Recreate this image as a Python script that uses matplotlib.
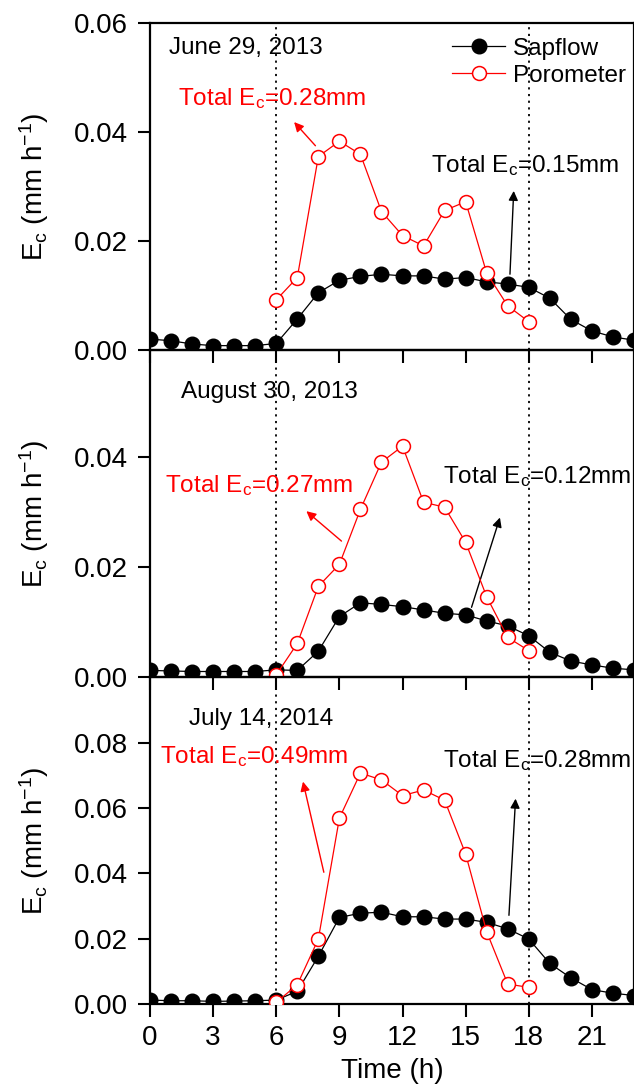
import matplotlib
matplotlib.use("Agg")
import matplotlib.pyplot as plt

plt.rcParams['font.family'] = ['Liberation Sans', 'DejaVu Sans']
plt.rcParams['mathtext.fontset'] = 'custom'
plt.rcParams['mathtext.rm'] = 'Liberation Sans'
plt.rcParams['mathtext.it'] = 'Liberation Sans:italic'
plt.rcParams['mathtext.default'] = 'regular'

hours = list(range(24))
poro_hours = list(range(6, 19))

sap_jun = [0.0020, 0.0017, 0.0011, 0.0008, 0.0008, 0.0008, 0.0012, 0.0057, 0.0105, 0.0128,
           0.0135, 0.0139, 0.0136, 0.0136, 0.0130, 0.0133, 0.0125, 0.0121, 0.0115, 0.0095,
           0.0056, 0.0035, 0.0024, 0.0018]
poro_jun = [0.0092, 0.0133, 0.0355, 0.0383, 0.0359, 0.0254, 0.0210, 0.0191, 0.0256, 0.0272,
            0.0141, 0.0081, 0.0052]

sap_aug = [0.0012, 0.0011, 0.0010, 0.0010, 0.0010, 0.0010, 0.0013, 0.0012, 0.0047, 0.0110,
           0.0135, 0.0132, 0.0128, 0.0122, 0.0116, 0.0113, 0.0102, 0.0093, 0.0075, 0.0045,
           0.0029, 0.0022, 0.0016, 0.0013]
poro_aug = [0.0004, 0.0061, 0.0165, 0.0205, 0.0305, 0.0391, 0.0420, 0.0318, 0.0309, 0.0245,
            0.0146, 0.0072, 0.0048]

sap_jul = [0.0012, 0.0010, 0.0010, 0.0008, 0.0009, 0.0010, 0.0012, 0.0039, 0.0146, 0.0265,
           0.0278, 0.0281, 0.0267, 0.0267, 0.0260, 0.0260, 0.0250, 0.0230, 0.0199, 0.0124,
           0.0080, 0.0044, 0.0033, 0.0026]
poro_jul = [0.0005, 0.0059, 0.0199, 0.0569, 0.0707, 0.0686, 0.0638, 0.0655, 0.0624, 0.0459,
            0.0221, 0.0061, 0.0051]

dates = ["June 29, 2013", "August 30, 2013", "July 14, 2014"]
poro_totals = ["0.28", "0.27", "0.49"]
sap_totals = ["0.15", "0.12", "0.28"]
xticks = [0, 3, 6, 9, 12, 15, 18, 21]

panels = [
    dict(sap=sap_jun, poro=poro_jun, ylim=0.06, yticks=[0, 0.02, 0.04, 0.06],
         date_xy=(0.9, 0.0554), red_xy=(1.33, 0.0462), red_arrow=((7.95, 0.0371), (6.76, 0.0422)),
         blk_xy=(13.33, 0.0339), blk_arrow=((17.1, 0.0134), (17.29, 0.0297))),
    dict(sap=sap_aug, poro=poro_aug, ylim=0.0595, yticks=[0, 0.02, 0.04],
         date_xy=(1.48, 0.0518), red_xy=(0.71, 0.0349), red_arrow=((9.2, 0.0244), (7.33, 0.0305)),
         blk_xy=(13.9, 0.0365), blk_arrow=((15.24, 0.0122), (16.67, 0.0295))),
    dict(sap=sap_jul, poro=poro_jul, ylim=0.1001, yticks=[0, 0.02, 0.04, 0.06, 0.08],
         date_xy=(1.86, 0.0873), red_xy=(0.48, 0.0759), red_arrow=((8.29, 0.0395), (7.24, 0.0689)),
         blk_xy=(13.9, 0.0744), blk_arrow=((17.05, 0.0263), (17.38, 0.0637))),
]

fig = plt.figure(figsize=(6.34, 10.85), dpi=100, facecolor='white')
left = 150 / 634
width = 1 - left
h = 327 / 1085
bottoms = [(1085 - 350) / 1085, (1085 - 677) / 1085, (1085 - 1004) / 1085]

for i, p in enumerate(panels):
    ax = fig.add_axes([left, bottoms[i], width, h])
    ax.set_facecolor('none')
    ax.axvline(6, color='black', linestyle=(0, (1.2, 2.5)), lw=1.3, zorder=1)
    ax.axvline(18, color='black', linestyle=(0, (1.2, 2.5)), lw=1.3, zorder=1)
    ax.plot(hours, p['sap'], '-o', color='black', lw=0.9, ms=10.5,
            mfc='black', mec='black', label='Sapflow', zorder=3)
    ax.plot(poro_hours, p['poro'], '-o', color='red', lw=0.9, ms=10,
            mfc='white', mec='red', mew=1.1, label='Porometer', zorder=4)
    ax.set_xlim(0, 23)
    ax.set_ylim(0, p['ylim'])
    ax.set_yticks(p['yticks'])
    ax.set_yticklabels(['%.2f' % v for v in p['yticks']])
    ax.set_xticks(xticks)
    if i < 2:
        ax.set_xticklabels([])
    else:
        ax.set_xticklabels([str(v) for v in xticks])
        ax.set_xlabel('Time (h)', fontsize=20, labelpad=5)
    ax.tick_params(axis='y', direction='out', length=9, width=1.5, labelsize=20, pad=7)
    ax.tick_params(axis='x', direction='out', length=9, width=1.5, labelsize=20, pad=6)
    for s in ax.spines.values():
        s.set_linewidth(1.6)
    ax.set_ylabel('E$_c$ (mm h$^{-1}$)', fontsize=20)
    ax.yaxis.set_label_coords(-0.205, 0.5)

    ax.text(p['date_xy'][0], p['date_xy'][1], dates[i], fontsize=17.5, va='center', ha='left')
    ax.text(p['red_xy'][0], p['red_xy'][1], 'Total E$_c$=' + poro_totals[i] + 'mm',
            fontsize=17.5, color='red', va='center', ha='left')
    ax.text(p['blk_xy'][0], p['blk_xy'][1], 'Total E$_c$=' + sap_totals[i] + 'mm',
            fontsize=17.5, color='black', va='center', ha='left')
    (tx, ty), (hx, hy) = p['red_arrow']
    ax.annotate('', xy=(hx, hy), xytext=(tx, ty),
                arrowprops=dict(arrowstyle='-|>', color='red', lw=1.0, mutation_scale=14))
    (tx, ty), (hx, hy) = p['blk_arrow']
    ax.annotate('', xy=(hx, hy), xytext=(tx, ty),
                arrowprops=dict(arrowstyle='-|>', color='black', lw=1.0, mutation_scale=14))

    if i == 0:
        ax.legend(loc='upper left', bbox_to_anchor=(0.624, 0.955), frameon=False,
                  fontsize=17.5, borderaxespad=0, borderpad=0, handletextpad=0.3,
                  labelspacing=0.2, handlelength=2.2)

fig.savefig('out.png', dpi=100, facecolor='white')
